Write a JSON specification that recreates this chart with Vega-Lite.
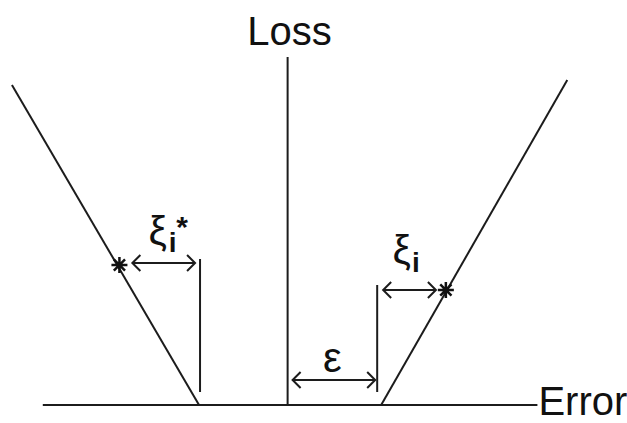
{
  "$schema": "https://vega.github.io/schema/vega-lite/v6.json",
  "width": 627,
  "height": 423,
  "autosize": {"type": "fit", "contains": "padding"},
  "padding": 0,
  "background": "white",
  "config": {"view": {"stroke": null}},
  "datasets": {
    "segments": [
      {"part": "error axis", "x": -247, "y": 0, "x2": 250, "y2": 0},
      {"part": "loss axis", "x": -1, "y": 0, "x2": -1, "y2": 348},
      {"part": "left branch", "x": -90, "y": 0, "x2": -278, "y2": 320},
      {"part": "right branch", "x": 93, "y": 0, "x2": 280, "y2": 325},
      {"part": "left margin", "x": -89, "y": 13, "x2": -89, "y2": 146},
      {"part": "right margin", "x": 89, "y": 13, "x2": 89, "y2": 120}
    ],
    "arrows": [
      {"name": "epsilon", "x": 4, "y": 25, "x2": 87, "y2": 25},
      {"name": "xi star", "x": -157, "y": 142, "x2": -94, "y2": 142},
      {"name": "xi", "x": 95, "y": 115, "x2": 148, "y2": 115}
    ],
    "stars": [
      {"name": "below", "x": -170, "y": 140},
      {"name": "above", "x": 158, "y": 115}
    ]
  },
  "encoding": {
    "x": {"type": "quantitative", "scale": {"domain": [-290, 337], "nice": false, "zero": false}, "axis": null},
    "y": {"type": "quantitative", "scale": {"domain": [-18, 405], "nice": false, "zero": false}, "axis": null}
  },
  "layer": [
    {
      "data": {"name": "segments"},
      "mark": {"type": "rule", "color": "#1c1c1c", "strokeWidth": 2},
      "encoding": {
        "x": {"field": "x", "type": "quantitative"},
        "y": {"field": "y", "type": "quantitative"},
        "x2": {"field": "x2"},
        "y2": {"field": "y2"}
      }
    },
    {
      "data": {"name": "arrows"},
      "mark": {"type": "rule", "color": "#1c1c1c", "strokeWidth": 2},
      "encoding": {
        "x": {"field": "x", "type": "quantitative"},
        "y": {"field": "y", "type": "quantitative"},
        "x2": {"field": "x2"},
        "y2": {"field": "y2"}
      }
    },
    {
      "data": {"name": "arrows"},
      "mark": {"type": "point", "shape": "M1,-1L0,0L1,1", "filled": false, "color": "#1c1c1c", "strokeWidth": 2, "size": 256, "opacity": 1},
      "encoding": {
        "x": {"field": "x", "type": "quantitative"},
        "y": {"field": "y", "type": "quantitative"}
      }
    },
    {
      "data": {"name": "arrows"},
      "mark": {"type": "point", "shape": "M-1,-1L0,0L-1,1", "filled": false, "color": "#1c1c1c", "strokeWidth": 2, "size": 256, "opacity": 1},
      "encoding": {
        "x": {"field": "x2", "type": "quantitative"},
        "y": {"field": "y2", "type": "quantitative"}
      }
    },
    {
      "data": {"name": "stars"},
      "mark": {"type": "point", "shape": "M-1,0L1,0M0,-1L0,1M-0.7,-0.7L0.7,0.7M-0.7,0.7L0.7,-0.7", "filled": false, "color": "#111", "strokeWidth": 2.5, "size": 256, "opacity": 1},
      "encoding": {
        "x": {"field": "x", "type": "quantitative"},
        "y": {"field": "y", "type": "quantitative"}
      }
    },
    {
      "data": {"values": [
        {"text": "Loss", "x": 1, "y": 360}
      ]},
      "mark": {"type": "text", "font": "Liberation Sans", "fontSize": 40, "align": "center", "baseline": "alphabetic", "color": "#111"},
      "encoding": {
        "x": {"field": "x", "type": "quantitative"},
        "y": {"field": "y", "type": "quantitative"},
        "text": {"field": "text"}
      }
    },
    {
      "data": {"values": [
        {"text": "Error", "x": 251, "y": -10}
      ]},
      "mark": {"type": "text", "font": "Liberation Sans", "fontSize": 40, "align": "left", "baseline": "alphabetic", "color": "#111"},
      "encoding": {
        "x": {"field": "x", "type": "quantitative"},
        "y": {"field": "y", "type": "quantitative"},
        "text": {"field": "text"}
      }
    },
    {
      "data": {"values": [
        {"text": "ξ", "x": -131.5, "y": 160},
        {"text": "ξ", "x": 113.5, "y": 141}
      ]},
      "mark": {"type": "text", "font": "Liberation Sans", "fontSize": 41, "align": "center", "baseline": "alphabetic", "color": "#111"},
      "encoding": {
        "x": {"field": "x", "type": "quantitative"},
        "y": {"field": "y", "type": "quantitative"},
        "text": {"field": "text"}
      }
    },
    {
      "data": {"values": [
        {"text": "i", "x": -116.5, "y": 153},
        {"text": "i", "x": 128, "y": 133}
      ]},
      "mark": {"type": "text", "font": "Liberation Sans", "fontSize": 28, "fontWeight": "bold", "align": "center", "baseline": "alphabetic", "color": "#111"},
      "encoding": {
        "x": {"field": "x", "type": "quantitative"},
        "y": {"field": "y", "type": "quantitative"},
        "text": {"field": "text"}
      }
    },
    {
      "data": {"values": [
        {"text": "*", "x": -107, "y": 168}
      ]},
      "mark": {"type": "text", "font": "Liberation Sans", "fontSize": 30, "fontWeight": "bold", "align": "center", "baseline": "alphabetic", "color": "#111"},
      "encoding": {
        "x": {"field": "x", "type": "quantitative"},
        "y": {"field": "y", "type": "quantitative"},
        "text": {"field": "text"}
      }
    },
    {
      "data": {"values": [
        {"text": "ε", "x": 44, "y": 33}
      ]},
      "mark": {"type": "text", "font": "Liberation Sans", "fontSize": 42, "align": "center", "baseline": "alphabetic", "color": "#111"},
      "encoding": {
        "x": {"field": "x", "type": "quantitative"},
        "y": {"field": "y", "type": "quantitative"},
        "text": {"field": "text"}
      }
    }
  ]
}
